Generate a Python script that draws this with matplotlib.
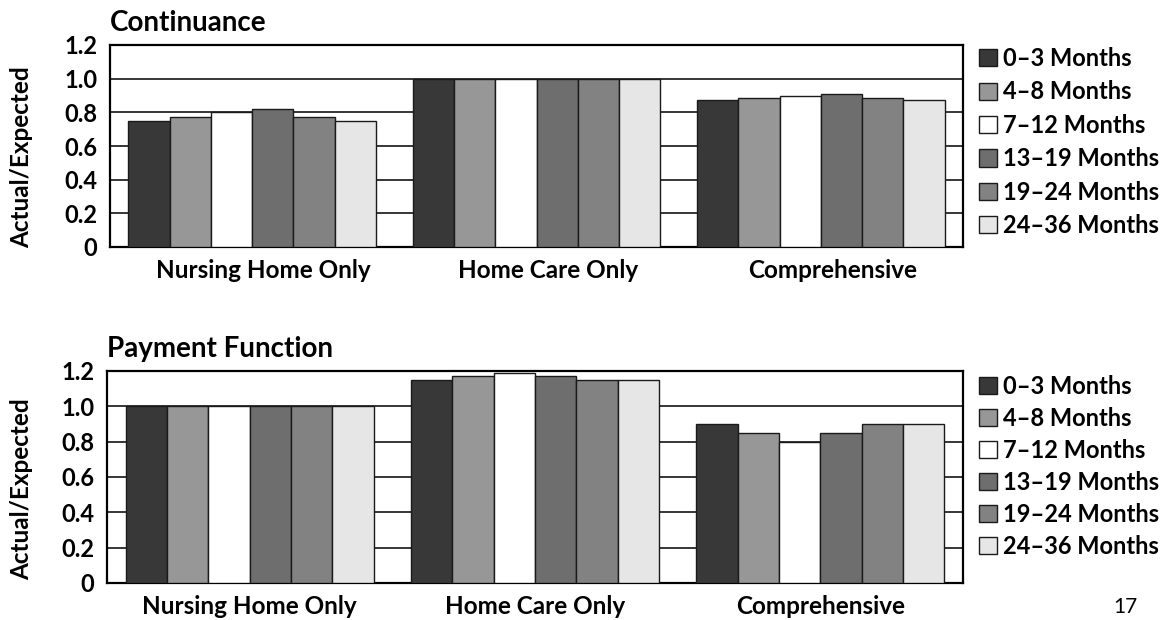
import numpy as np
import matplotlib
matplotlib.use("Agg")
import matplotlib.pyplot as plt
from matplotlib.patches import Patch

plt.rcParams['font.family'] = ['Lato', 'DejaVu Sans']

categories = ["Nursing Home Only", "Home Care Only", "Comprehensive"]
periods = ["0\u20133 Months", "4\u20138 Months", "7\u201312 Months",
           "13\u201319 Months", "19\u201324 Months", "24\u201336 Months"]

# Actual/Expected ratios, one list per duration band (Nursing, Home Care, Comprehensive)
continuance = [
    [0.75, 1.00, 0.875],
    [0.77, 1.00, 0.885],
    [0.80, 1.00, 0.90],
    [0.82, 1.00, 0.91],
    [0.77, 1.00, 0.885],
    [0.75, 1.00, 0.875],
]
payment = [
    [1.00, 1.15, 0.90],
    [1.00, 1.17, 0.85],
    [1.00, 1.19, 0.80],
    [1.00, 1.17, 0.85],
    [1.00, 1.15, 0.90],
    [1.00, 1.15, 0.90],
]
yticks = [0, 0.2, 0.4, 0.6, 0.8, 1.0, 1.2]
yticklabels = ["0", "0.2", "0.4", "0.6", "0.8", "1.0", "1.2"]

colors = ["#383838", "#979797", "#ffffff", "#6e6e6e", "#828282", "#e6e6e6"]

fig = plt.figure(figsize=(11.71, 6.20), dpi=100)


def panel(rect, title, data, legend_top, legend_step, label_shift, title_y):
    ax = fig.add_axes(rect)
    x = np.arange(len(categories))
    w = 0.145
    for i, (vals, c) in enumerate(zip(data, colors)):
        ax.bar(x + (i - 2.5) * w, vals, width=w, color=c,
               edgecolor="#1a1a1a", linewidth=1.0, zorder=3)
    ax.set_xlim(-0.5, 2.5)
    ax.set_ylim(0, 1.2)
    ax.set_yticks(yticks)
    ax.set_yticklabels(yticklabels, fontsize=17, fontweight="bold")
    # category labels sit slightly right of the bar groups
    ax.set_xticks(x + label_shift)
    ax.set_xticklabels(categories, fontsize=17.5, fontweight="bold")
    ax.tick_params(axis="both", length=0)
    ax.tick_params(axis="y", pad=9)
    ax.tick_params(axis="x", pad=9)
    ax.yaxis.grid(True, color="black", linewidth=1.1, zorder=0)
    ax.set_axisbelow(True)
    for s in ax.spines.values():
        s.set_linewidth(1.6)
        s.set_color("black")
    ax.set_ylabel("Actual/Expected", fontsize=17.5, fontweight="bold")
    ax.yaxis.set_label_coords(-(rect[0] * 1171 - 33) / (rect[2] * 1171), 0.445)
    ax.text(0.0, title_y, title, transform=ax.transAxes, fontsize=20,
            fontweight="bold", ha="left", va="baseline")
    handles = [Patch(facecolor=c, edgecolor="#1a1a1a", linewidth=1.0) for c in colors]
    fig.legend(handles, periods, loc="upper left",
               bbox_to_anchor=(979 / 1171, legend_top), frameon=False,
               prop={"size": 17, "weight": "bold"}, handlelength=0.75,
               handleheight=0.75, handletextpad=0.25,
               labelspacing=legend_step, borderpad=0, borderaxespad=0)
    return ax


panel([110 / 1171, 1 - 247 / 620, 853 / 1171, 202 / 620], "Continuance",
      continuance, 1 - 47 / 620, 0.44, 0.04, 1.07)
panel([107 / 1171, 1 - 583 / 620, 856 / 1171, 212 / 620], "Payment Function",
      payment, 1 - 375 / 620, 0.38, 0.0, 1.066)

fig.text(1125 / 1171, 1 - 607 / 620, "17", fontsize=15, ha="center", va="center")

fig.savefig("out.png", dpi=100)
